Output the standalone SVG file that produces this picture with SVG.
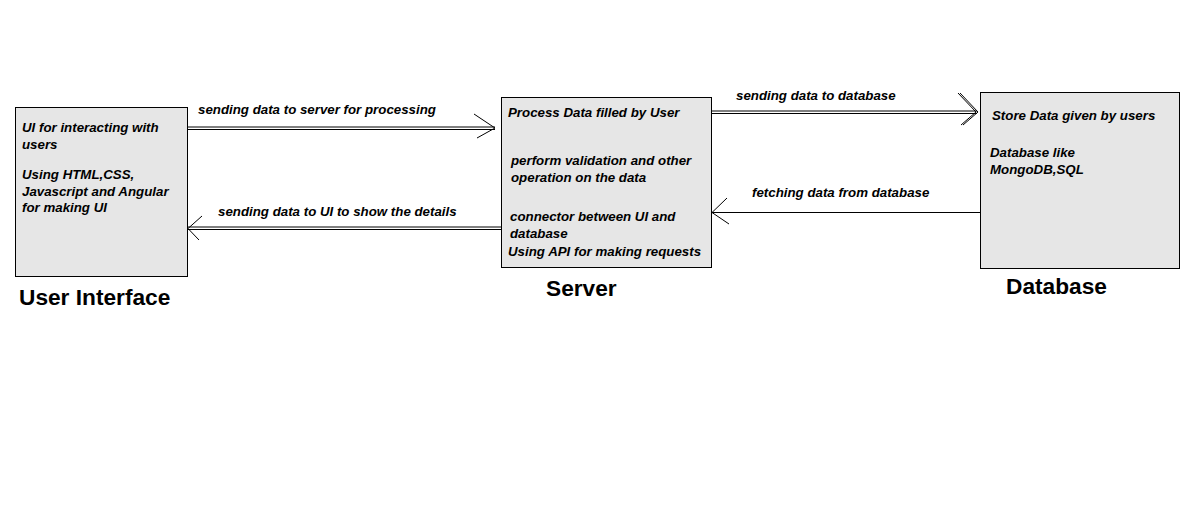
<svg xmlns="http://www.w3.org/2000/svg" width="1188" height="512" viewBox="0 0 1188 512">
<style>
.box{fill:#e6e6e6;stroke:#000;stroke-width:1}
.t{font-family:"Liberation Sans",Arial,sans-serif;font-size:13.3px;font-weight:bold;font-style:italic;fill:#000}
.title{font-family:"Liberation Sans",Arial,sans-serif;font-size:22.7px;font-weight:bold;fill:#000}
.ln{fill:none;stroke:#000;stroke-width:1}
</style>
<rect width="1188" height="512" fill="#fff"/>
<g id="connectors">
<path class="ln" d="M188 127H495M188 129.5H495"/>
<path class="ln" d="M474 114L495 128L477 138"/>
<path class="ln" d="M501 227H188M501 229.5H188"/>
<path class="ln" d="M202 216L188 228.5L199 240"/>
<path class="ln" d="M712 111H977M712 113.5H977"/>
<path class="ln" d="M958 93L976 112L961 125M960 93L978 112L963 125"/>
<path class="ln" d="M980 212.5H712"/>
<path class="ln" d="M727 198L712 212.5L729 224"/>
<text class="t" x="198" y="114">sending data to server for processing</text>
<text class="t" x="218" y="216">sending data to UI to show the details</text>
<text class="t" x="736" y="100">sending data to database</text>
<text class="t" x="752" y="197">fetching data from database</text>
</g>
<g id="ui">
<rect class="box" x="15.5" y="107.5" width="172" height="169"/>
<text class="t" x="22" y="132">UI for interacting with</text>
<text class="t" x="22" y="149">users</text>
<text class="t" x="22" y="179">Using HTML,CSS,</text>
<text class="t" x="22" y="196">Javascript and Angular</text>
<text class="t" x="22" y="212">for making UI</text>
<text class="title" x="19" y="305">User Interface</text>
</g>
<g id="server">
<rect class="box" x="501.5" y="97.5" width="210" height="170"/>
<text class="t" x="508" y="117">Process Data filled by User</text>
<text class="t" x="511" y="165">perform validation and other</text>
<text class="t" x="511" y="182">operation on the data</text>
<text class="t" x="510" y="221">connector between UI and</text>
<text class="t" x="510" y="238">database</text>
<text class="t" x="508" y="256">Using API for making requests</text>
<text class="title" x="546" y="296">Server</text>
</g>
<g id="database">
<rect class="box" x="980.5" y="92.5" width="199" height="176"/>
<text class="t" x="992" y="120">Store Data given by users</text>
<text class="t" x="990" y="157">Database like</text>
<text class="t" x="990" y="174">MongoDB,SQL</text>
<text class="title" x="1006" y="294">Database</text>
</g>
</svg>
